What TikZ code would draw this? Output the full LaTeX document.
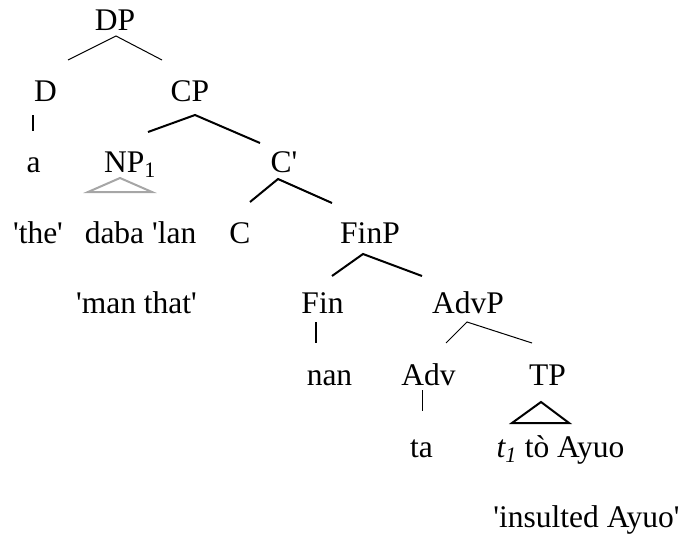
\documentclass[tikz,border=0pt]{standalone}
\usepackage{fontspec}
\setmainfont{Liberation Serif}
\newcommand{\apice}{\textquotesingle}
\tikzset{
parola/.style={inner sep=0pt,anchor=base},
ramo/.style={line width=1pt},
ramo grosso/.style={line width=2pt},
triangolo/.style={line width=2pt,line join=miter}}

\begin{document}
\begin{tikzpicture}[x=1pt,y=-1pt,font=\fontsize{31.5}{36}\selectfont]
\useasboundingbox (0,0) rectangle (683,538);

\node[parola] (dp) at (115,30) {DP};
\node[parola] (d) at (45.5,101) {D};
\node[parola] (cp) at (190,101) {CP};
\node[parola] (a) at (33.5,172) {a};
\node[parola] (np) at (130,172) {NP\textsubscript{1}};
\node[parola] (c1) at (284,172) {C\apice};
\node[parola] (the) at (38,243) {\apice the\apice};
\node[parola] (daba) at (140.5,243) {daba \apice lan};
\node[parola] (c) at (240,243) {C};
\node[parola] (finp) at (370,243) {FinP};
\node[parola] (man) at (136.5,313) {\apice man that\apice};
\node[parola] (fin) at (322.5,313) {Fin};
\node[parola] (advp) at (468,313) {AdvP};
\node[parola] (nan) at (329.5,385) {nan};
\node[parola] (adv) at (428.5,385) {Adv};
\node[parola] (tp) at (547.5,385) {TP};
\node[parola] (ta) at (421.5,457) {ta};
\node[parola] (ayuo) at (560.5,457) {\textit{t\textsubscript{1}} tò Ayuo};
\node[parola] (insulted) at (586.5,527) {\apice insulted Ayuo\apice};

\coordinate (dp-v) at (116,36);
\coordinate (dp-l) at (68,60);
\coordinate (dp-r) at (162,60);
\coordinate (cp-v) at (195,115);
\coordinate (cp-l) at (148,132);
\coordinate (cp-r) at (260,143);
\coordinate (c1-v) at (278,179);
\coordinate (c1-l) at (250,202);
\coordinate (c1-r) at (332,203);
\coordinate (finp-v) at (363,254);
\coordinate (finp-l) at (332,276);
\coordinate (finp-r) at (422,276);
\coordinate (advp-v) at (467,322);
\coordinate (advp-l) at (446,343);
\coordinate (advp-r) at (532,343);

\draw[ramo] (dp-l) -- (dp-v) -- (dp-r);
\draw[ramo grosso] (cp-l) -- (cp-v) -- (cp-r);
\draw[ramo grosso] (c1-l) -- (c1-v) -- (c1-r);
\draw[ramo grosso] (finp-l) -- (finp-v) -- (finp-r);
\draw[ramo] (advp-l) -- (advp-v) -- (advp-r);

\draw[ramo grosso] (33,115) coordinate (d-b) -- (33,131) coordinate (a-t);
\draw[ramo grosso] (316,322) coordinate (fin-b) -- (316,343) coordinate (nan-t);
\draw[ramo] (422,390) coordinate (adv-b) -- (422,411) coordinate (ta-t);

\draw[triangolo,black!35] (120,178) -- (88,192) -- (152,192) -- cycle;
\draw[triangolo] (541,402) -- (512,423) -- (569,423) -- cycle;
\end{tikzpicture}
\end{document}
